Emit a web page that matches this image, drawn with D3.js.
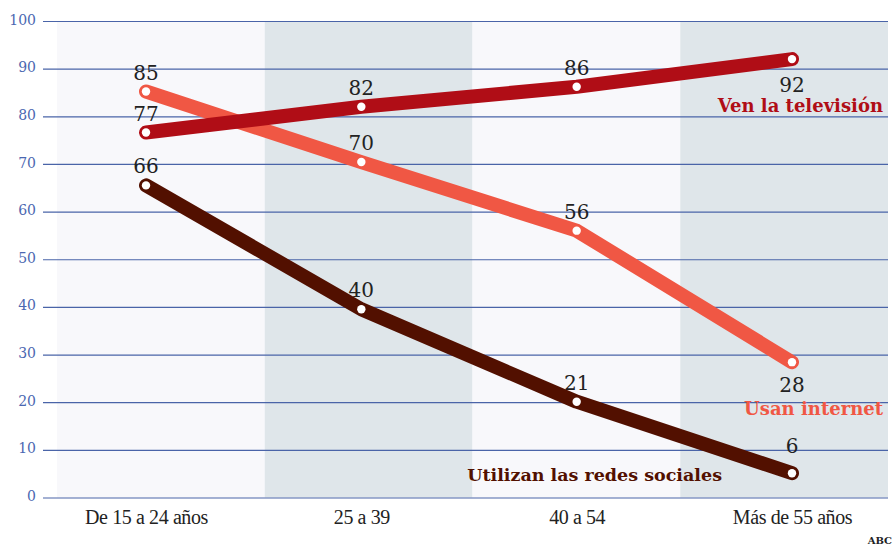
<!DOCTYPE html>
<html><head><meta charset="utf-8">
<script src="https://cdn.jsdelivr.net/npm/d3@7"></script>
<style>body{margin:0;background:#fff}svg{display:block}</style>
</head><body><svg id="c" width="894" height="546"></svg>
<script>
const categories = ["De 15 a 24 años", "25 a 39", "40 a 54", "Más de 55 años"];
// labelled values
const tv = [77, 82, 86, 92];
const internet = [85, 70, 56, 28];
const redes = [66, 40, 21, 6];
// plotted positions (unrounded)
const tvPlot = [76.6, 82, 86.2, 92];
const internetPlot = [85.2, 70.4, 56, 28.4];
const redesPlot = [65.5, 39.5, 20.1, 5.1];
const yTicks = [0, 10, 20, 30, 40, 50, 60, 70, 80, 90, 100];
const seriesNames = ["Ven la televisión", "Usan internet", "Utilizan las redes sociales"];

const series = [
  {name: seriesNames[0], labels: tv, values: tvPlot, color: "#b00d16", dy: [-12,-12,-12,33]},
  {name: seriesNames[1], labels: internet, values: internetPlot, color: "#f05744", dy: [-12,-12,-12,30]},
  {name: seriesNames[2], labels: redes, values: redesPlot, color: "#521000", dy: [-12,-12,-12,-20]}
];

const svg = d3.select("#c");
const y = d3.scaleLinear().domain([0,100]).range([497.5, 21]);
const band = d3.scaleBand().domain(categories).range([57, 888]);
const x = d3.scalePoint().domain(categories).range([146, 792]);
const serif = "'DejaVu Serif', serif";

// bands
svg.append("g").selectAll("rect").data(categories).join("rect")
  .attr("x", d => band(d)).attr("width", band.bandwidth())
  .attr("y", y(100)).attr("height", y(0)-y(100))
  .attr("fill", (d,i) => i%2 ? "#dfe6ea" : "#f8f8fb");

// grid
const yAxis = svg.append("g").attr("transform","translate(43,0)")
  .call(d3.axisLeft(y).tickValues(yTicks).tickSize(-845).tickPadding(7));
yAxis.select(".domain").remove();
yAxis.selectAll(".tick line").attr("stroke","#4a64a8").attr("stroke-width",1.2);
yAxis.selectAll(".tick text").attr("fill","#4b67b1").attr("font-family",serif)
  .attr("font-size",14).attr("dy","0.22em");

// x axis labels
const xAxis = svg.append("g").attr("transform","translate(0,497.5)")
  .call(d3.axisBottom(x).tickSize(0).tickPadding(12));
xAxis.select(".domain").remove();
xAxis.selectAll(".tick text").attr("fill","#222").attr("font-family","'Liberation Serif', serif")
  .attr("font-size",20).attr("letter-spacing","-0.4");

const line = d3.line().x((d,i) => x(categories[i])).y(d => y(d));
series.slice().reverse().forEach(s => {
  svg.append("path").attr("d", line(s.values)).attr("fill","none")
    .attr("stroke", s.color).attr("stroke-width", 14)
    .attr("stroke-linecap","round").attr("stroke-linejoin","round");
});
series.forEach(s => {
  const g = svg.append("g");
  g.selectAll("circle").data(s.values).join("circle")
    .attr("cx",(d,i)=>x(categories[i])).attr("cy",d=>y(d)).attr("r",4.2).attr("fill","#fff");
  g.selectAll("text").data(s.labels).join("text")
    .attr("x",(d,i)=>x(categories[i])).attr("y",(d,i)=> y(s.values[i]) + s.dy[i])
    .attr("text-anchor","middle").attr("font-family",serif).attr("font-weight",300)
    .attr("font-size",20).attr("fill","#222").text(d=>d);
});

// series labels
svg.append("text").attr("x",883).attr("y",112).attr("text-anchor","end")
  .attr("font-family",serif).attr("font-weight","bold").attr("font-size",18)
  .attr("fill",series[0].color).text(series[0].name);
svg.append("text").attr("x",883).attr("y",415).attr("text-anchor","end")
  .attr("font-family",serif).attr("font-weight","bold").attr("font-size",18)
  .attr("fill",series[1].color).text(series[1].name);
svg.append("text").attr("x",722).attr("y",481).attr("text-anchor","end")
  .attr("font-family",serif).attr("font-weight","bold").attr("font-size",17.5)
  .attr("fill",series[2].color).text(series[2].name);

svg.append("text").attr("x",892).attr("y",544).attr("text-anchor","end")
  .attr("font-family",serif).attr("font-weight","bold").attr("font-size",10)
  .attr("fill","#222").text("ABC");
</script></body></html>
